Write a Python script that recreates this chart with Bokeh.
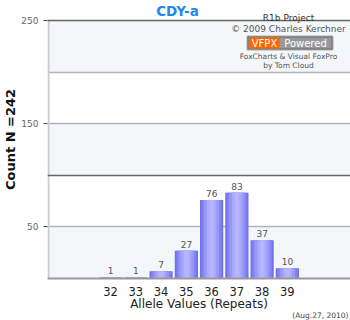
import math
from bokeh.plotting import figure
from bokeh.models import (Range1d, FixedTicker, Grid, BoxAnnotation, Label, Title,
                          ColumnDataSource)
from bokeh.embed import file_html
from bokeh.resources import INLINE
from bokeh.core.properties import value

# ---- data ----
alleles = [32, 33, 34, 35, 36, 37, 38, 39]
counts = [1, 1, 7, 27, 76, 83, 37, 10]
y_ticks = [50, 150, 250]
title_text = "CDY-a"
y_label = "Count N =242"
x_label = "Allele Values (Repeats)"
date_text = "(Aug.27, 2010)"

FONT = "DejaVu Sans"

src = ColumnDataSource(dict(x=alleles, top=counts, lab=[str(c) for c in counts]))

# frame spans canvas y 0..278; value 250 sits at y=20 -> top of range = 250*278/258
Y_TOP = 250 * 278 / 258

p = figure(width=350, height=320, output_backend="svg", toolbar_location=None,
           x_range=Range1d(29.5, 41.5), y_range=Range1d(0, Y_TOP),
           min_border_left=45, min_border_right=0, min_border_top=0,
           min_border_bottom=42, background_fill_color="white",
           border_fill_color="white", outline_line_color=None)

# bands
for lo, hi in [(0, 50), (100, 150), (200, 250)]:
    p.add_layout(BoxAnnotation(bottom=lo, top=hi, fill_color="#f3f7f9", fill_alpha=1,
                               line_color=None, level="image"))

# vertical axis line (only from 0 to 250)
p.add_layout(BoxAnnotation(bottom=0, top=250, left=0, right=2, left_units="screen",
                           right_units="screen", fill_color="#cccccc", fill_alpha=1,
                           line_color=None, level="underlay"))

# grid
p.xgrid.visible = False
p.ygrid.ticker = FixedTicker(ticks=[50, 150, 200])
p.ygrid.grid_line_color = "#b4b4b4"
p.ygrid.grid_line_width = 1.5
g2 = Grid(dimension=1, ticker=FixedTicker(ticks=[100, 250]), grid_line_color="#666666",
          grid_line_width=1.5)
p.add_layout(g2)

# bars with a pseudo-gradient
layers = [(0.92, "#7272e8"), (0.78, "#8484f0"), (0.6, "#9898f8"), (0.38, "#aaaafd"), (0.18, "#b6b6ff")]
for w, c in layers:
    p.vbar(x="x", top="top", bottom=0, width=w, source=src, fill_color=c, line_color=None)

p.text(x="x", y="top", text="lab", source=src, text_align="center", text_baseline="bottom",
       y_offset=-3, text_font=value(FONT), text_font_size="9px", text_color="#555555")

# axes
ya = p.yaxis[0]
ya.ticker = FixedTicker(ticks=y_ticks)
ya.axis_line_color = None
ya.major_tick_out = 4
ya.major_tick_in = 0
ya.major_tick_line_color = "#444444"
ya.minor_tick_line_color = None
ya.major_label_text_font = FONT
ya.major_label_text_font_size = "9px"
ya.major_label_text_color = "#666666"
ya.major_label_standoff = 5
ya.axis_label = y_label
ya.axis_label_text_font = FONT
ya.axis_label_text_font_size = "13px"
ya.axis_label_text_font_style = "bold"
ya.axis_label_text_color = "#111111"
ya.axis_label_standoff = 0

xa = p.xaxis[0]
xa.ticker = FixedTicker(ticks=alleles)
xa.axis_line_color = "#9a9a9a"
xa.axis_line_width = 2
xa.major_tick_line_color = None
xa.major_tick_out = 0
xa.major_tick_in = 0
xa.minor_tick_line_color = None
xa.major_label_text_font = FONT
xa.major_label_text_font_size = "11.5px"
xa.major_label_text_color = "#222222"
xa.major_label_standoff = 8
xa.axis_label = x_label
xa.axis_label_text_font = FONT
xa.axis_label_text_font_size = "12px"
xa.axis_label_text_font_style = "normal"
xa.axis_label_text_color = "#222222"
xa.axis_label_standoff = -2

date_title = Title(text=date_text, align="right", text_font=FONT, text_font_size="7.5px",
                   text_font_style="normal", text_color="#444444", standoff=-10, offset=2)
p.add_layout(date_title, "below")

# labels inside the frame; screen units relative to frame bottom-left (frame: x 45.., y ..278)
def lab(text, cx, cy, size, color="#333333", style="normal", align="center"):
    p.add_layout(Label(x=cx - 45, y=278 - cy, x_units="screen", y_units="screen",
                       text=text, text_font=FONT, text_font_size=size, text_color=color,
                       text_font_style=style, text_align=align, text_baseline="middle"))

lab(title_text, 175, 10, "13.5px", color="#2288ee", style="bold")
lab("R1b Project", 286, 17, "9px", color="#333333")
lab("\u00a9 2009 Charles Kerchner", 286, 28, "9px", color="#555555")
lab("FoxCharts & Visual FoxPro", 286, 56, "7.5px", color="#555555")
lab("by Tom Cloud", 286, 65, "7.5px", color="#555555")

# logo
p.add_layout(BoxAnnotation(left=245 - 45, right=330 - 45, bottom=278 - 49, top=278 - 36,
                           left_units="screen", right_units="screen", bottom_units="screen",
                           top_units="screen", fill_color="#999999", fill_alpha=1,
                           line_color="black", line_width=2))
p.add_layout(BoxAnnotation(left=247 - 45, right=277 - 45, bottom=278 - 48, top=278 - 37,
                           left_units="screen", right_units="screen", bottom_units="screen",
                           top_units="screen", fill_color="#ff6600", fill_alpha=1,
                           line_color=None))
lab("VFPX", 262, 42.5, "10px", color="white")
lab("Powered", 303, 42.5, "10px", color="white")

open("out.html", "w").write(file_html(p, INLINE))
